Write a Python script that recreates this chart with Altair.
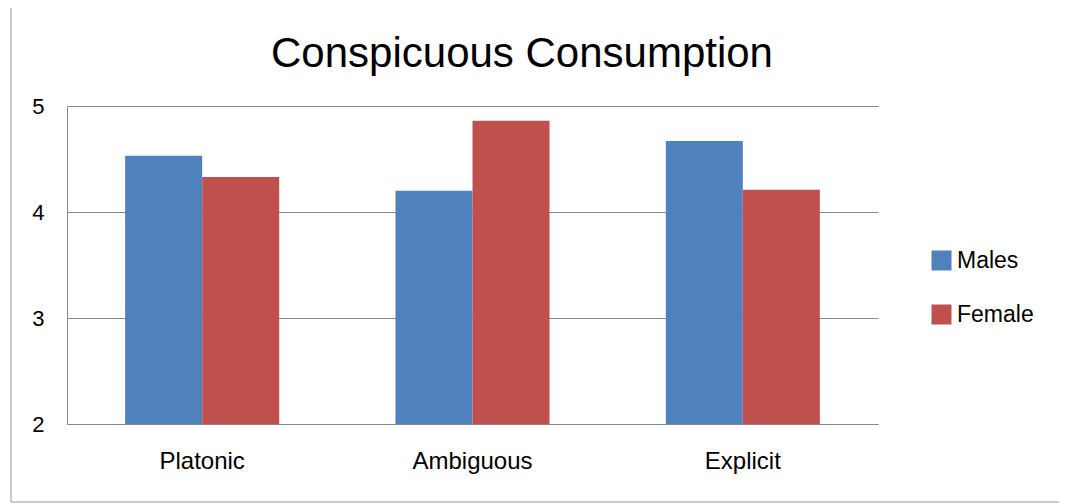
import altair as alt
import pandas as pd

categories = ["Platonic", "Ambiguous", "Explicit"]
series = ["Males", "Female"]
males = [4.53, 4.20, 4.67]
female = [4.33, 4.86, 4.21]
colors = ["#4F81BD", "#C0504D"]
y_ticks = [2, 3, 4, 5]
title_text = "Conspicuous Consumption"

rows = []
for c, m, f in zip(categories, males, female):
    rows.append({"cat": c, "series": "Males", "value": m})
    rows.append({"cat": c, "series": "Female", "value": f})
df = pd.DataFrame(rows)

FONT = "Liberation Sans"

bars = alt.Chart(df).mark_bar(size=77).encode(
    x=alt.X("cat:N", sort=categories,
            scale=alt.Scale(paddingInner=0.43, paddingOuter=0.215),
            axis=alt.Axis(title=None, labelAngle=0, labelFontSize=24, labelFont=FONT,
                          labelColor="#000", ticks=False, domain=True, domainColor="#888",
                          labelPadding=25, grid=False)),
    xOffset=alt.XOffset("series:N", sort=series, scale=alt.Scale(paddingInner=0, paddingOuter=0)),
    y=alt.Y("value:Q", scale=alt.Scale(domain=[2, 5], nice=False, zero=False),
            axis=alt.Axis(title=None, values=y_ticks, labelFontSize=22, labelFont=FONT,
                          labelColor="#000", ticks=False, domainColor="#888",
                          gridColor="#888", labelPadding=23)),
    y2=alt.Y2(datum=2),
    color=alt.Color("series:N", sort=series,
                    scale=alt.Scale(domain=series, range=colors),
                    legend=alt.Legend(title=None, orient="none", legendX=863, legendY=143,
                                      symbolType="square", symbolSize=400, symbolStrokeWidth=0,
                                      labelFontSize=23, labelFont=FONT, labelColor="#000",
                                      labelOffset=4, rowPadding=30)),
)

border = alt.Chart(pd.DataFrame({"a": [0]})).mark_rect(
    fill=None, stroke="#bbb", strokeWidth=1.5, clip=False
).encode(
    x=alt.value(-56), x2=alt.value(998), y=alt.value(-100), y2=alt.value(396)
)

title = alt.Chart(pd.DataFrame({"t": [title_text]})).mark_text(
    font=FONT, fontSize=42, color="#000", baseline="alphabetic", align="center"
).encode(
    text="t:N", x=alt.value(455), y=alt.value(-39)
)

chart = alt.layer(border, bars, title).properties(
    width=811, height=318,
    padding={"left": 59, "top": 98, "right": 181, "bottom": 80},
    autosize=alt.AutoSizeParams(type="none"),
    background="white",
).configure_view(stroke=None)

chart.save("out.html", embed_options={"renderer": "svg", "actions": False})
